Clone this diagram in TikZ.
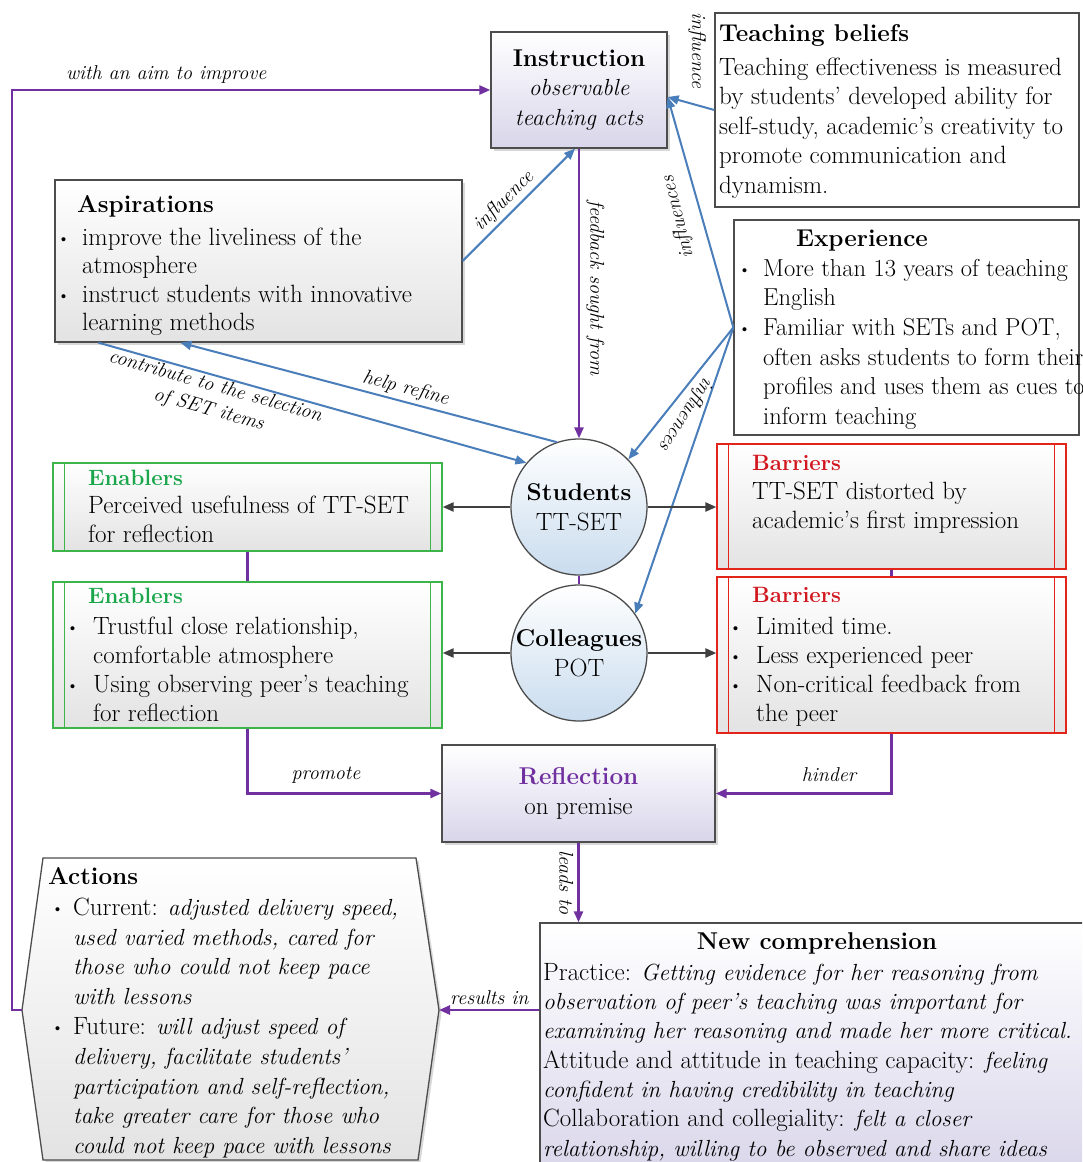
\documentclass[tikz,border=0pt]{standalone}
\usetikzlibrary{arrows.meta,shadows,calc}

\definecolor{pur}{HTML}{7030A0}
\definecolor{blu}{HTML}{4A7EBB}
\definecolor{dgr}{HTML}{404040}
\definecolor{edge}{HTML}{4D4D4D}
\definecolor{lav}{HTML}{D9D5EA}
\definecolor{lgray}{HTML}{E3E3E3}
\definecolor{lblue}{HTML}{C9DCEE}
\definecolor{grn}{HTML}{3DB54A}
\definecolor{grnT}{HTML}{1AA64A}
\definecolor{redB}{HTML}{E3241B}
\definecolor{redT}{HTML}{D2161E}

\newcommand\bodyfont{\fontsize{25}{29.5}\selectfont}
\newcommand\headfont{\fontsize{24.3}{29.5}\selectfont\bfseries}
\newcommand\subheadfont{\fontsize{22.2}{29.5}\selectfont\bfseries}
\newcommand\lblfont{\fontsize{20}{24}\selectfont\itshape}
\newcommand\ita[1]{{\fontsize{23.3}{29.5}\selectfont\itshape #1}}
\newcommand\strt{\rule{0pt}{22pt}}
\newcommand\bul[1]{\makebox[#1][l]{\raisebox{1pt}{\fontsize{18}{18}\selectfont\textbullet}}}

\begin{document}
\begin{tikzpicture}[x=1pt, y=-1pt,
  box/.style={draw=edge, line width=1.3pt, inner sep=0pt},
  lavbox/.style={box, top color=white, bottom color=lav},
  graybox/.style={box, top color=white, bottom color=lgray},
  shad/.style={drop shadow={shadow xshift=2.5pt, shadow yshift=-2.5pt, opacity=0.3}},
  circ/.style={circle, draw=edge, line width=1.3pt, minimum size=136pt, inner sep=0pt,
    top color=white, bottom color=lblue, align=center, font=\bodyfont},
  txt/.style={inner sep=0pt, anchor=north west, align=left, font=\bodyfont},
  head/.style={inner sep=0pt, anchor=base west, font=\headfont},
  subhead/.style={inner sep=0pt, anchor=base west, font=\subheadfont},
  lbl/.style={inner sep=3pt, font=\lblfont},
  tip/.style={-{Triangle[length=11pt,width=9pt]}},
  purarrow/.style={draw=pur, line width=2.4pt, tip},
  purlink/.style={draw=pur, line width=2.4pt},
  bluarrow/.style={draw=blu, line width=2pt, tip},
  gryarrow/.style={draw=dgr, line width=2.4pt, tip},
  enbox/.style={box, draw=grn, top color=white, bottom color=lgray},
  babox/.style={box, draw=redB, top color=white, bottom color=lgray}
]
\useasboundingbox (0,0) rectangle (1082,1162);
\clip (0,0) rectangle (1082,1162);
\fill[white] (0,0) rectangle (1082,1162);

% ---------- Instruction ----------
\node[lavbox, shad, minimum width=176pt, minimum height=116pt, align=center, font=\bodyfont]
  (instr) at (579,90) {{\headfont Instruction}\\\ita{observable}\\\ita{teaching acts}};

% ---------- Teaching beliefs ----------
\node[box, fill=white, minimum width=364pt, minimum height=194pt] (tb) at (897,110) {};
\node[head] (tbT) at (719,41) {Teaching beliefs};
\node[txt] (tbB) at (719,53) {\strt Teaching effectiveness is measured\\
  by students’ developed ability for\\
  self-study, academic’s creativity to\\
  promote communication and\\
  dynamism.};

% ---------- Aspirations ----------
\node[graybox, shad, minimum width=407pt, minimum height=162pt] (asp) at (258.5,261) {};
\node[head] (aspT) at (77,212) {Aspirations};
\node[txt, font=\fontsize{25}{28.5}\selectfont] (aspB) at (57,223)
  {\strt\bul{25pt}improve the liveliness of the\\
  \hspace*{25pt}atmosphere\\
  \bul{25pt}instruct students with innovative\\
  \hspace*{25pt}learning methods};

% ---------- Experience ----------
\node[box, fill=white, minimum width=345pt, minimum height=215pt] (exp) at (906.5,327.5) {};
\node[head, anchor=base] (expT) at (862,246) {Experience};
\node[txt, font=\fontsize{24.5}{29.6}\selectfont] (expB) at (738,254)
  {\strt\bul{25pt}More than 13 years of teaching\\
  \hspace*{25pt}English\\
  \bul{25pt}Familiar with SETs and POT,\\
  \hspace*{25pt}often asks students to form their\\
  \hspace*{25pt}profiles and uses them as cues to\\
  \hspace*{25pt}inform teaching};

% ---------- Students / Colleagues ----------
\node[circ] (stu) at (579,507) {{\headfont Students}\\TT-SET};
\node[circ] (col) at (579,653) {{\headfont Colleagues}\\POT};

% ---------- Enablers ----------
\node[enbox, minimum width=389pt, minimum height=88pt] (en1) at (247.5,507) {};
\node[enbox, minimum width=389pt, minimum height=146pt] (en2) at (247.5,655) {};
\foreach \b in {en1,en2}{
  \draw[grn, line width=1.3pt] ([xshift=12pt]\b.north west) -- ([xshift=12pt]\b.south west);
  \draw[grn, line width=1.3pt] ([xshift=-12pt]\b.north east) -- ([xshift=-12pt]\b.south east);
}
\node[subhead, text=grnT] (en1T) at (88,485) {Enablers};
\node[txt] (en1B) at (88,491) {\strt Perceived usefulness of TT-SET\\for reflection};
\node[subhead, text=grnT] (en2T) at (88,603) {Enablers};
\node[txt, font=\fontsize{25}{29}\selectfont] (en2B) at (66,612)
  {\strt\bul{27pt}Trustful close relationship,\\
  \hspace*{27pt}comfortable atmosphere\\
  \bul{27pt}Using observing peer’s teaching\\
  \hspace*{27pt}for reflection};

% ---------- Barriers ----------
\node[babox, minimum width=349pt, minimum height=125pt] (ba1) at (891.5,506.5) {};
\node[babox, minimum width=349pt, minimum height=156pt] (ba2) at (891.5,655) {};
\foreach \b in {ba1,ba2}{
  \draw[redB, line width=1.3pt] ([xshift=12pt]\b.north west) -- ([xshift=12pt]\b.south west);
  \draw[redB, line width=1.3pt] ([xshift=-12pt]\b.north east) -- ([xshift=-12pt]\b.south east);
}
\node[subhead, text=redT] (ba1T) at (752,470) {Barriers};
\node[txt] (ba1B) at (752,477) {\strt TT-SET distorted by\\academic’s first impression};
\node[subhead, text=redT] (ba2T) at (752,602) {Barriers};
\node[txt, font=\fontsize{25}{29}\selectfont] (ba2B) at (729,612)
  {\strt\bul{27pt}Limited time.\\
  \bul{27pt}Less experienced peer\\
  \bul{27pt}Non-critical feedback from\\
  \hspace*{27pt}the peer};

% ---------- Reflection ----------
\node[lavbox, shad, minimum width=273pt, minimum height=97pt, align=center, font=\bodyfont]
  (refl) at (578.5,793.5) {{\headfont\color{pur}Reflection}\\on premise};

% ---------- New comprehension ----------
\node[lavbox, minimum width=560pt, minimum height=257pt] (nc) at (820,1051.5) {};
\node[head, anchor=base] (ncT) at (817,949) {New comprehension};
\node[txt, font=\fontsize{25}{29.3}\selectfont] (ncB) at (543,958)
  {\strt Practice: \ita{Getting evidence for her reasoning from}\\
  \ita{observation of peer’s teaching was important for}\\
  \ita{examining her reasoning and made her more critical.}\\
  Attitude and attitude in teaching capacity: \ita{feeling}\\
  \ita{confident in having credibility in teaching}\\
  Collaboration and collegiality: \ita{felt a closer}\\
  \ita{relationship, willing to be observed and share ideas}};

% ---------- Actions ----------
\coordinate (actW) at (22,1010);
\coordinate (actE) at (439,1010);
\path[graybox, shad] (43,858) -- (416,858) -- (actE) -- (418,1160) -- (43,1160) -- (actW) -- cycle;
\node[head] (actT) at (48,884) {Actions};
\node[txt, font=\fontsize{25}{29.8}\selectfont] (actB) at (51,893)
  {\strt\bul{22pt}Current: \ita{adjusted delivery speed,}\\
  \hspace*{22pt}\ita{used varied methods, cared for}\\
  \hspace*{22pt}\ita{those who could not keep pace}\\
  \hspace*{22pt}\ita{with lessons}\\
  \bul{22pt}Future: \ita{will adjust speed of}\\
  \hspace*{22pt}\ita{delivery, facilitate students’}\\
  \hspace*{22pt}\ita{participation and self-reflection,}\\
  \hspace*{22pt}\ita{take greater care for those who}\\
  \hspace*{22pt}\ita{could not keep pace with lessons}};

% ---------- Connectors ----------
% loop from actions back to instruction
\draw[purarrow] (actW) -- ++(-10,0) |- (instr.west);
\node[lbl, anchor=base west, inner sep=0pt] (aimL) at (66,79) {with an aim to improve};

% instruction -> students
\draw[purarrow] (instr.south) -- node[lbl, rotate=-90, anchor=south, pos=0.48, inner sep=6pt] (fbL) {feedback sought from} (stu.north);

% aspirations -> instruction
\draw[bluarrow] (asp.east) -- node[lbl, sloped, above, pos=0.45] (infA) {influence} ([xshift=-4pt]instr.south);

% teaching beliefs -> instruction
\draw[bluarrow] (tb.west) -- ([yshift=-7pt]instr.east);
\node[lbl, rotate=-90] (infT) at (697,50) {influence};

% experience -> instruction, students, colleagues
\draw[bluarrow] (exp.west) -- ([yshift=-7pt]instr.east);
\node[lbl, rotate=104] (infE1) at (678,217) {influences};
\draw[bluarrow] (exp.west) -- (stu.44);
\draw[bluarrow] (exp.west) -- (col.35);
\node[lbl, rotate=-123] (infE2) at (686,414) {influences};

% students <-> aspirations
\draw[bluarrow] (stu.109) -- node[lbl, sloped, above, pos=0.41] (hrL) {help refine} ([xshift=126pt]asp.south west);
\draw[bluarrow] ([xshift=44pt]asp.south west) -- node[lbl, sloped, below, pos=0.28, align=center, inner sep=1pt] (ctL)
  {contribute to the selection\\of SET items} (stu.140);

% circles -> enablers / barriers
\draw[gryarrow] (stu.west) -- (stu.west -| en1.east);
\draw[gryarrow] (stu.east) -- (stu.east -| ba1.west);
\draw[gryarrow] (col.west) -- (col.west -| en2.east);
\draw[gryarrow] (col.east) -- (col.east -| ba2.west);

% vertical links
\draw[purlink] (stu.south) -- (col.north);
\draw[purlink] (en1.south) -- (en2.north);
\draw[purlink] (ba1.south) -- (ba2.north);

% enablers / barriers -> reflection
\draw[purarrow] (en2.south) |- (refl.west);
\node[lbl, anchor=base, inner sep=0pt] (prL) at (326,779) {promote};
\draw[purarrow] (ba2.south) |- (refl.east);
\node[lbl, anchor=base, inner sep=0pt] (hiL) at (829,781) {hinder};

% reflection -> new comprehension
\draw[purarrow] (refl.south) -- node[lbl, rotate=-90, anchor=north, pos=0.5, inner sep=4pt] (ldL) {leads to} (refl.south |- nc.north);

% new comprehension -> actions
\draw[purarrow] (nc.west |- actE) -- node[lbl, above, pos=0.5, inner sep=4pt] (riL) {results in} (actE);
\end{tikzpicture}
\end{document}
